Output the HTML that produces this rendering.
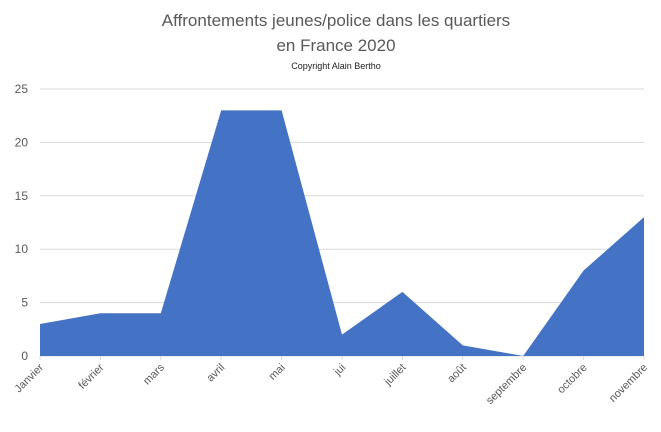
<!DOCTYPE html>
<html><head><meta charset="utf-8"><style>
body{margin:0;background:#fff;}
svg text{font-family:"Liberation Sans",sans-serif;fill:#595959;}
</style></head><body>
<svg width="661" height="427" viewBox="0 0 661 427">
<text x="336" y="26" font-size="17" text-anchor="middle">Affrontements jeunes/police dans les quartiers</text>
<text x="336" y="51" font-size="17" text-anchor="middle">en France 2020</text>
<text x="336" y="69" font-size="9" text-anchor="middle" fill="#000" style="fill:#222">Copyright Alain Bertho</text>
<g id="grid"></g><g id="plot"></g><g id="xl"></g><g id="yl"></g>
</svg>
<script>
const categories=["Janvier","février","mars","avril","mai","jui","juillet","août","septembre","octobre","novembre"];
const values=[3,4,4,23,23,2,6,1,0,8,13];
const yTicks=[0,5,10,15,20,25];
const ns="http://www.w3.org/2000/svg";
const x0=40,x1=644,yb=356,yt=89,ymax=25;
const xs=i=>x0+i*(x1-x0)/(categories.length-1);
const ys=v=>yb-v*(yb-yt)/ymax;
function mk(t,a,p){const e=document.createElementNS(ns,t);for(const k in a)e.setAttribute(k,a[k]);document.getElementById(p).appendChild(e);return e;}
yTicks.forEach(v=>{
 const l=mk("line",{x1:x0,x2:x1,y1:ys(v),y2:ys(v),stroke:"#d9d9d9","stroke-width":1},"grid");
 
 
 const t=mk("text",{x:x0-12,y:ys(v)+4,"font-size":12,"text-anchor":"end"},"yl");
 t.textContent=v;
 
 
});
let d="M"+xs(0)+","+ys(0);
values.forEach((v,i)=>{d+=" L"+xs(i)+","+ys(v);});
d+=" L"+xs(values.length-1)+","+ys(0)+" Z";
const a=mk("path",{d:d,fill:"#4472c4"},"plot");


categories.forEach((c,i)=>{
 const tk=mk("line",{x1:xs(i),x2:xs(i),y1:yb,y2:yb+4,stroke:"#d9d9d9"},"xl");
 
 
 const t=mk("text",{x:xs(i)+4,y:yb+12,"font-size":11,"text-anchor":"end",transform:"rotate(-45 "+(xs(i)+4)+" "+(yb+12)+")"},"xl");
 t.textContent=c;
 
 
});
</script>
</body></html>
